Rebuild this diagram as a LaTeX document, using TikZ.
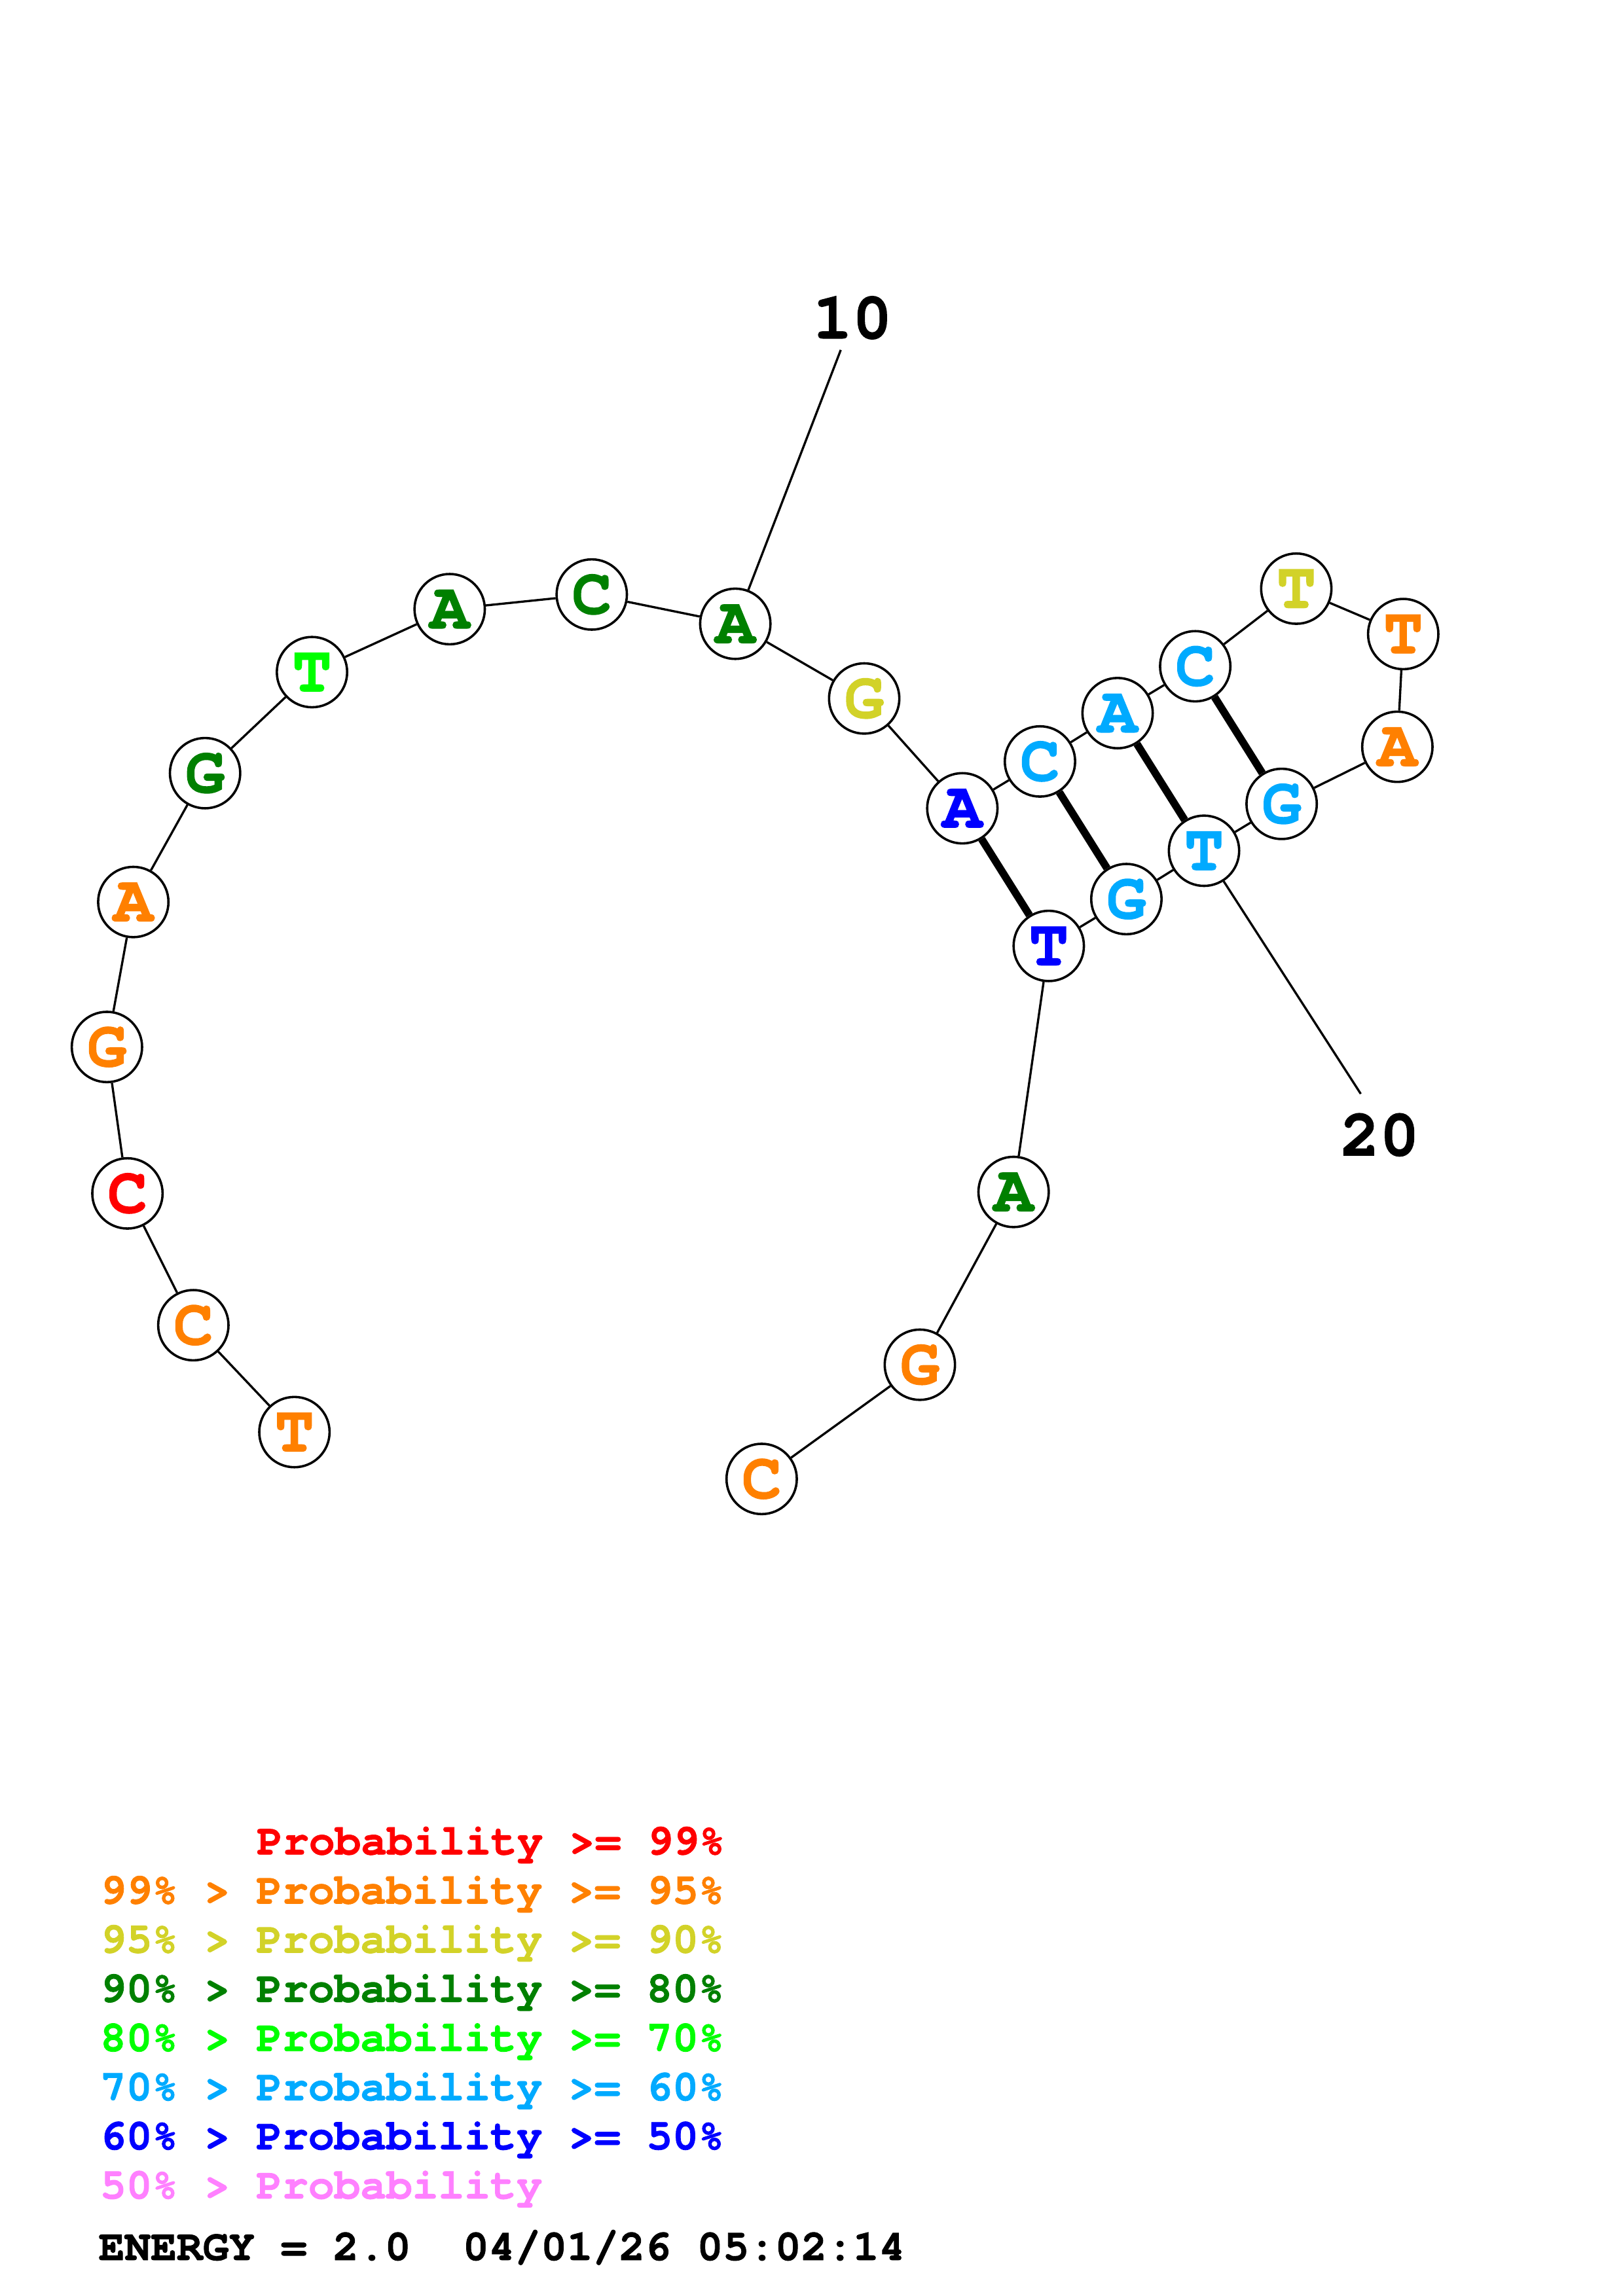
\documentclass[tikz,border=0pt]{standalone}
\usepackage{fontspec}
\newfontfamily\courbf{texgyrecursor-bold.otf}[FakeBold=1.3]
\usetikzlibrary{positioning}

\definecolor{pred}{RGB}{255,0,0}
\definecolor{porange}{RGB}{255,128,0}
\definecolor{pyellow}{RGB}{210,210,40}
\definecolor{pdkgreen}{RGB}{0,128,0}
\definecolor{plgreen}{RGB}{0,255,0}
\definecolor{plblue}{RGB}{0,170,255}
\definecolor{pblue}{RGB}{0,0,255}
\definecolor{ppink}{RGB}{255,128,255}

\begin{document}
\begin{tikzpicture}[x=0.5pt,y=-0.5pt,
    base/.style={circle,draw=black,line width=0.8pt,fill=white,minimum size=24pt,inner sep=0pt,font=\courbf\fontsize{22.5}{22.5}\selectfont},
    backbone/.style={line width=0.75pt},
    pair/.style={line width=2.6pt},
    numlabel/.style={inner sep=0pt,font=\courbf\fontsize{22.5}{22.5}\selectfont},
    legend/.style={anchor=base west,inner sep=0pt,font=\courbf\fontsize{14.8}{14.8}\selectfont}]
                \useasboundingbox (0,0) rectangle (1108,1568);

                % bases
                \node[base,text=porange] (n1) at (201,978) {T};
                \node[base,text=porange] (n2) at (132,905) {C};
                \node[base,text=pred] (n3) at (87,815) {C};
                \node[base,text=porange] (n4) at (73,715) {G};
                \node[base,text=porange] (n5) at (91,616) {A};
                \node[base,text=pdkgreen] (n6) at (140,528) {G};
                \node[base,text=plgreen] (n7) at (213,459) {T};
                \node[base,text=pdkgreen] (n8) at (307,416) {A};
                \node[base,text=pdkgreen] (n9) at (404,406) {C};
                \node[base,text=pdkgreen] (n10) at (502,426) {A};
                \node[base,text=pyellow] (n11) at (590,477) {G};
                \node[base,text=pblue] (n12) at (657,552) {A};
                \node[base,text=plblue] (n13) at (710,520) {C};
                \node[base,text=plblue] (n14) at (763,487) {A};
                \node[base,text=plblue] (n15) at (816,455) {C};
                \node[base,text=pyellow] (n16) at (885,402) {T};
                \node[base,text=porange] (n17) at (958,433) {T};
                \node[base,text=porange] (n18) at (954,510) {A};
                \node[base,text=plblue] (n19) at (875,549) {G};
                \node[base,text=plblue] (n20) at (822,581) {T};
                \node[base,text=plblue] (n21) at (769,614) {G};
                \node[base,text=pblue] (n22) at (716,646) {T};
                \node[base,text=pdkgreen] (n23) at (692,814) {A};
                \node[base,text=porange] (n24) at (628,932) {G};
                \node[base,text=porange] (n25) at (520,1010) {C};

                % chain
                \draw[backbone] (n1) -- (n2) -- (n3) -- (n4) -- (n5) -- (n6) -- (n7) -- (n8) -- (n9) -- (n10) -- (n11) -- (n12) -- (n13);
                \draw[backbone] (n13) -- (n14) -- (n15) -- (n16) -- (n17) -- (n18) -- (n19) -- (n20) -- (n21) -- (n22) -- (n23) -- (n24) -- (n25);

                % pairs
                \draw[pair] (n12) -- (n22);
                \draw[pair] (n13) -- (n21);
                \draw[pair] (n14) -- (n20);
                \draw[pair] (n15) -- (n19);

                % numbering
                \node[numlabel] (lab10) at (582,217) {10};
                \coordinate (tick10) at (574,239);
                \draw[backbone] (tick10) -- (n10);
                \node[numlabel] (lab20) at (942,775) {20};
                \coordinate (tick20) at (929,747);
                \draw[backbone] (tick20) -- (n20);

                % legend
                \node[legend,text=pred] (leg1) at (175,1266.4) {Probability >= 99\%};
                \node[legend,text=porange] (leg2) at (68,1300) {99\% > Probability >= 95\%};
                \node[legend,text=pyellow] (leg3) at (68,1333.5) {95\% > Probability >= 90\%};
                \node[legend,text=pdkgreen] (leg4) at (68,1367.1) {90\% > Probability >= 80\%};
                \node[legend,text=plgreen] (leg5) at (68,1400.7) {80\% > Probability >= 70\%};
                \node[legend,text=plblue] (leg6) at (68,1434.3) {70\% > Probability >= 60\%};
                \node[legend,text=pblue] (leg7) at (68,1467.8) {60\% > Probability >= 50\%};
                \node[legend,text=ppink] (leg8) at (68,1501.4) {50\% > Probability};
                \node[legend,text=black] (energy) at (67,1543.4) {ENERGY = 2.0\ \ 04/01/26 05:02:14};
              \end{tikzpicture}
\end{document}
